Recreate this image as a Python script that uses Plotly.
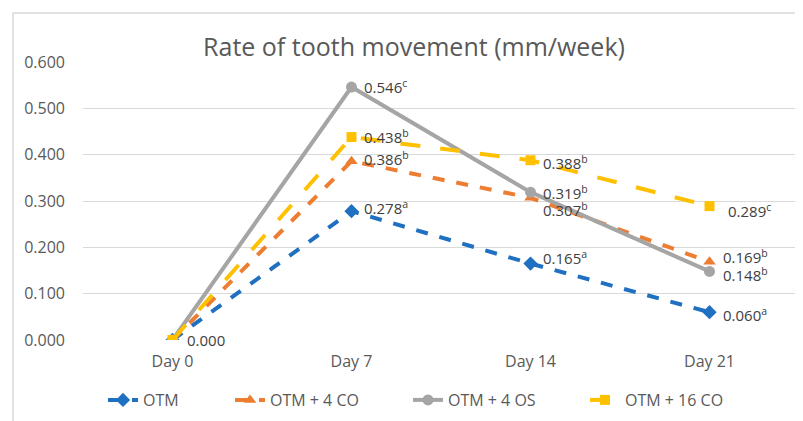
import plotly.graph_objects as go

categories = ["Day 0", "Day 7", "Day 14", "Day 21"]
otm = [0.000, 0.278, 0.165, 0.060]
otm_4co = [0.000, 0.386, 0.307, 0.169]
otm_4os = [0.000, 0.546, 0.319, 0.148]
otm_16co = [0.000, 0.438, 0.388, 0.289]
sup_otm = ["", "a", "a", "a"]
sup_4co = ["", "b", "b", "b"]
sup_4os = ["", "c", "b", "b"]
sup_16co = ["", "b", "b", "c"]
series_names = ["OTM", "OTM + 4 CO", "OTM + 4 OS", "OTM + 16 CO"]

# page body has an 8px margin; figure coordinates = screen - 8
OFF = 8
W, H = 803 - OFF, 421 - OFF
ML, MR, MT, MB = 83 - OFF, 4, 62 - OFF, 421 - 340

styles = [
    dict(color="#1F70C1", dash="dash", symbol="diamond", size=11, width=4),
    dict(color="#ED7D31", dash="dash", symbol="triangle-up", size=11, width=4),
    dict(color="#A5A5A5", dash="solid", symbol="circle", size=11, width=4),
    dict(color="#FFC000", dash="longdash", symbol="square", size=10, width=4),
]
# legend entry left edges (screen px)
legend_x = [106, 233, 411, 588]
all_vals = [otm, otm_4co, otm_4os, otm_16co]
all_sups = [sup_otm, sup_4co, sup_4os, sup_16co]
# label offsets (xshift, yshift) per series per point
offsets = [
    [(12, 0), (10, 4), (10, 6), (11, -2)],
    [None, (10, 3), (10, -12), (11, 5)],
    [None, (10, 1), (10, 0), (11, -3)],
    [None, (10, 1), (10, -2), (16, -4)],
]

pw = W - ML - MR
ph = H - MT - MB

fig = go.Figure()
legend_ids = ["legend", "legend2", "legend3", "legend4"]
for name, vals, st, lid in zip(series_names, all_vals, styles, legend_ids):
    fig.add_trace(go.Scatter(
        x=categories, y=vals, name=name, mode="lines+markers", legend=lid,
        line=dict(color=st["color"], dash=st["dash"], width=st["width"]),
        marker=dict(symbol=st["symbol"], size=st["size"], color=st["color"]),
    ))

annotations = []
for vals, sups, offs in zip(all_vals, all_sups, offsets):
    for cat, v, s, o in zip(categories, vals, sups, offs):
        if o is None:
            continue
        txt = f"{v:.3f}" + (f"<sup>{s}</sup>" if s else "")
        annotations.append(dict(
            x=cat, y=v, xref="x", yref="y", text=txt, showarrow=False,
            xanchor="left", yanchor="middle", xshift=o[0], yshift=o[1],
            font=dict(size=15, color="#404040"),
        ))

shapes = [dict(
    type="rect", xref="paper", yref="paper",
    x0=(13 - OFF - ML) / pw, x1=(W + 5 - ML) / pw,
    y0=-(MB + 5) / ph, y1=(H - (13 - OFF) - MB) / ph,
    line=dict(color="#D9D9D9", width=1.5), fillcolor="rgba(0,0,0,0)", layer="below",
)]

legends = {}
for lid, lx in zip(legend_ids, legend_x):
    legends[lid] = dict(
        orientation="h", x=(lx - OFF - ML - 3) / pw, xanchor="left",
        y=-(400 - 340) / ph, yanchor="middle",
        font=dict(size=16, color="#595959"), bgcolor="rgba(0,0,0,0)",
    )

fig.update_layout(
    width=W, height=H,
    margin=dict(l=ML, r=MR, t=MT, b=MB),
    paper_bgcolor="white", plot_bgcolor="white",
    font=dict(family="Open Sans", color="#595959", size=15),
    title=dict(text="Rate of tooth movement (mm/week)", x=(414 - OFF) / W, xanchor="center",
               y=1 - (47 - OFF) / H, yanchor="middle", xref="container", yref="container",
               font=dict(size=25, color="#595959")),
    xaxis=dict(showgrid=False, showline=False, ticks="", range=[-0.5, 3.5],
               tickfont=dict(size=16, color="#595959"), ticklabelstandoff=10),
    yaxis=dict(range=[0, 0.6], dtick=0.1, tickformat=".3f", showgrid=True,
               gridcolor="#D9D9D9", gridwidth=1, zeroline=False, showline=False,
               tickfont=dict(size=16, color="#595959"), ticklabelstandoff=17),
    annotations=annotations,
    shapes=shapes,
    showlegend=True,
    **legends,
)
fig.write_html("out.html")
